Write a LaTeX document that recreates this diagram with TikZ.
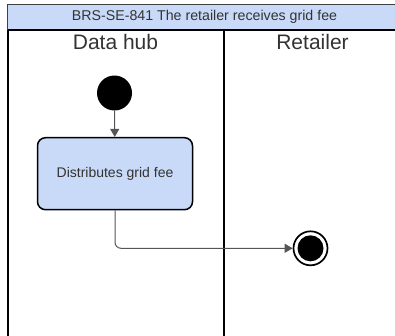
\documentclass[tikz,border=0pt]{standalone}
\usepackage{fontspec}
\setmainfont{Liberation Sans}
\usetikzlibrary{arrows.meta}
\definecolor{hdrblue}{HTML}{C9DAF8}
\definecolor{boxblue}{HTML}{C9DAF8}
\definecolor{txtgray}{HTML}{333333}
\definecolor{linegray}{HTML}{555555}
\tikzset{
  lane/.style={draw=black, line width=2pt},
  titletxt/.style={font=\fontsize{21}{24}\selectfont, text=txtgray, inner sep=0pt},
  actbox/.style={draw=black, line width=1.5pt, fill=boxblue, rounded corners=8pt,
    minimum width=155pt, minimum height=72pt, font=\fontsize{14}{16}\selectfont, text=txtgray},
  startdot/.style={circle, fill=black, minimum size=35pt, inner sep=0pt},
  enddot/.style={circle, draw=black, line width=1.7pt, minimum size=34pt, inner sep=0pt},
  flow/.style={draw=linegray, line width=1pt, -{Triangle[length=8pt,width=9pt]}},
}
\begin{document}
\begin{tikzpicture}[x=1pt,y=-1pt]
\useasboundingbox (0,0) rectangle (395,335);
\begin{scope}
\clip (0,0) rectangle (395,335);
% header
\draw[fill=hdrblue, draw=black!75, line width=1.2pt] (7.8,4.7) rectangle (402,29.5);
% lanes
\draw[lane] (7.8,29.5) -- (7.8,340);
\draw[lane] (223.5,29.5) -- (223.5,340);
\draw[lane] (7.8,29.5) -- (402,29.5);
\end{scope}
\node[font=\fontsize{14.2}{16}\selectfont, text=txtgray, inner sep=0pt] (hdr) at (204.5,17.3) {BRS-SE-841 The retailer receives grid fee};
\node[titletxt, anchor=base] (lane1) at (115.5,49.5) {Data hub};
\node[titletxt, anchor=base] (lane2) at (312.5,49.5) {Retailer};
% nodes
\node[startdot] (start) at (114.5,93) {};
\node[actbox] (act) at (115,173.7) {Distributes grid fee};
\node[enddot] (end) at (310.5,248.3) {};
\node[circle, fill=black, minimum size=26pt, inner sep=0pt] (endin) at (end) {};
% connectors
\draw[flow] (start) -- (act);
\draw[flow, rounded corners=6pt] (act.south) |- (end.west);
\end{tikzpicture}
\end{document}
